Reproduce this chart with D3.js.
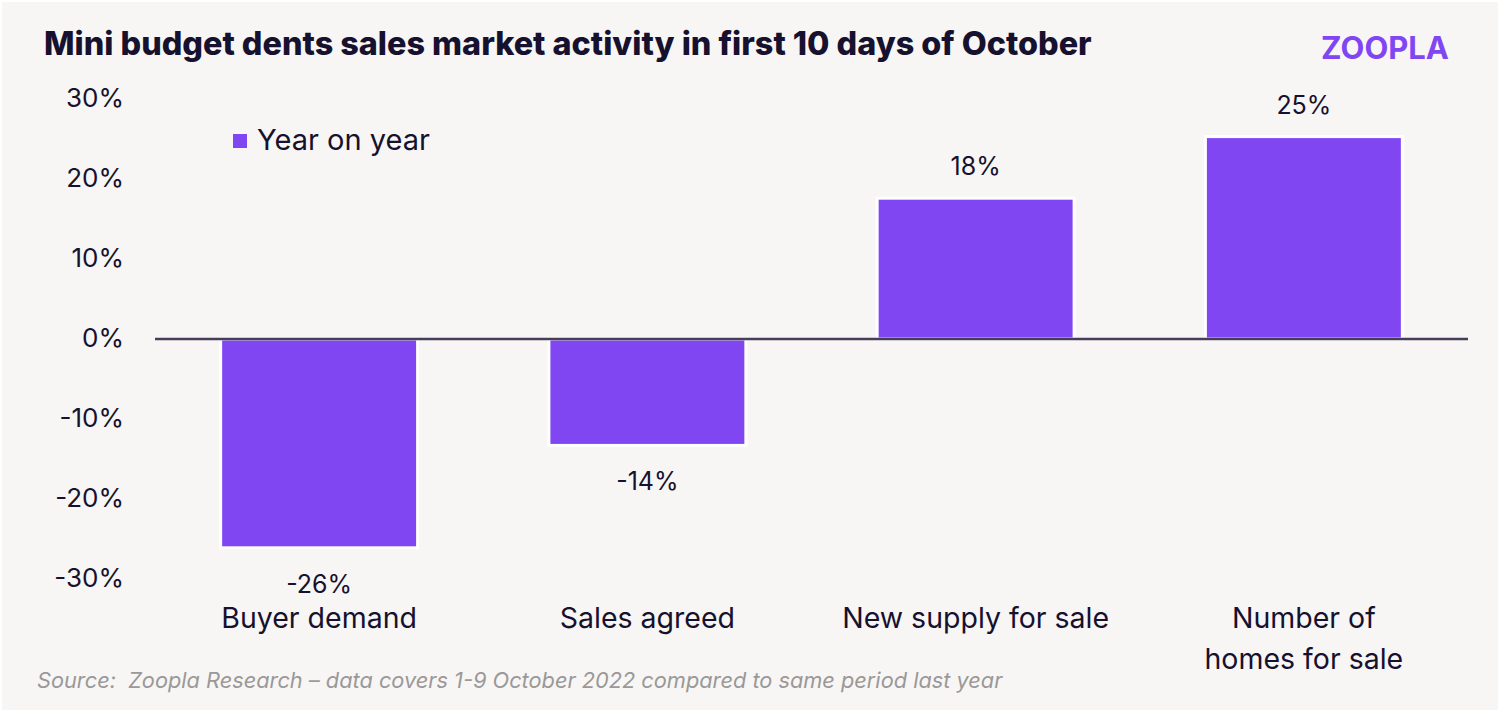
<!DOCTYPE html>
<html>
<head>
<meta charset="utf-8">
<script src="https://cdn.jsdelivr.net/npm/d3@7"></script>
<style>
	body { margin: 0; background: #f7f6f4; }
	svg { display: block; }
	text { font-family: Inter, "Open Sans", sans-serif; fill: #16112e; }
</style>
</head>
<body>
<div class="chart"></div>
<script>
// data
const categories = ['Buyer demand', 'Sales agreed', 'New supply for sale', 'Number of homes for sale'];
const catLines = [['Buyer demand'], ['Sales agreed'], ['New supply for sale'], ['Number of', 'homes for sale']];
const values = [-26.1, -13.3, 17.6, 25.3];
const valueLabels = ['-26%', '-14%', '18%', '25%'];
const yTicks = [-30, -20, -10, 0, 10, 20, 30];

const width = 1500;
const height = 712;
const purple = '#8046f2';

const svg = d3.select('.chart')
	.append('svg')
	.attr('width', width)
	.attr('height', height);

svg.append('rect')
	.attr('width', width)
	.attr('height', height)
	.attr('fill', '#f7f6f4')
	.attr('stroke', '#ffffff')
	.attr('stroke-width', 4);

// shrink/grow font so the text spans the given width
function fitWidth(sel, w) {
	const fs = parseFloat(sel.attr('font-size'));
	const len = sel.node().getComputedTextLength();
	sel.attr('font-size', (fs * w / len).toFixed(2));
}

const x = d3.scaleBand()
	.domain(categories)
	.range([155, 1468])
	.paddingInner(0.4)
	.paddingOuter(0.2);

const y = d3.scaleLinear()
	.domain([-30, 30])
	.range([579, 99]);

// title
const title = svg.append('text')
	.attr('x', 44)
	.attr('y', 55)
	.attr('font-size', 28)
	.attr('font-weight', 800)
	.attr('fill', '#000')
	.text('Mini budget dents sales market activity in first 10 days of October');
fitWidth(title, 1048);

// logo
const logo = svg.append('text')
	.attr('x', 1321)
	.attr('y', 59)
	.attr('font-size', 29)
	.attr('font-weight', 700)
	.style('fill', purple)
	.text('ZOOPLA');
fitWidth(logo, 128);

// y axis labels
const yAxis = svg.append('g')
	.attr('transform', 'translate(124,0)')
	.call(d3.axisLeft(y).tickValues(yTicks).tickSize(0).tickPadding(0)
		.tickFormat(d => (d < 0 ? '-' : '') + Math.abs(d) + '%'));
yAxis.select('.domain').remove();
yAxis.selectAll('text')
	.attr('font-size', 26)
	.attr('font-family', 'Inter, sans-serif')
	.attr('dy', '0.3em')
	.style('fill', '#16112e');

// bars
svg.selectAll('.bar')
	.data(values)
	.enter()
	.append('rect')
	.attr('class', 'bar')
	.attr('x', (d, i) => x(categories[i]))
	.attr('width', x.bandwidth())
	.attr('y', d => y(Math.max(0, d)))
	.attr('height', d => Math.abs(y(d) - y(0)))
	.attr('fill', purple)
	.attr('stroke', '#ffffff')
	.attr('stroke-width', 3);

// zero line
svg.append('line')
	.attr('x1', x.range()[0])
	.attr('x2', x.range()[1])
	.attr('y1', y(0))
	.attr('y2', y(0))
	.attr('stroke', '#463d5a')
	.attr('stroke-width', 2.5);

// value labels
svg.selectAll('.val')
	.data(values)
	.enter()
	.append('text')
	.attr('class', 'val')
	.attr('x', (d, i) => x(categories[i]) + x.bandwidth() / 2)
	.attr('y', d => d >= 0 ? y(d) - 23 : y(d) + 45)
	.attr('text-anchor', 'middle')
	.attr('font-size', 25)
	.text((d, i) => valueLabels[i]);

// category labels
const cats = svg.selectAll('.cat')
	.data(catLines)
	.enter()
	.append('text')
	.attr('class', 'cat')
	.attr('x', (d, i) => x(categories[i]) + x.bandwidth() / 2)
	.attr('y', 628)
	.attr('text-anchor', 'middle')
	.attr('font-size', 28.5);
cats.selectAll('tspan')
	.data(d => d)
	.enter()
	.append('tspan')
	.attr('x', function () { return d3.select(this.parentNode).attr('x'); })
	.attr('dy', (d, i) => i === 0 ? 0 : 41)
	.text(d => d);

// legend
svg.append('rect')
	.attr('x', 233)
	.attr('y', 134)
	.attr('width', 14)
	.attr('height', 14)
	.attr('fill', purple);
const legend = svg.append('text')
	.attr('x', 257)
	.attr('y', 150)
	.attr('font-size', 26)
	.text('Year on year');
fitWidth(legend, 173);

// source
const source = svg.append('text')
	.attr('x', 37)
	.attr('y', 688)
	.attr('font-size', 20)
	.attr('font-style', 'italic')
	.style('fill', '#9a9898')
	.style('white-space', 'pre')
	.text('Source:\u00a0 Zoopla Research \u2013 data covers 1-9 October 2022 compared to same period last year');
fitWidth(source, 966);
</script>
</body>
</html>
